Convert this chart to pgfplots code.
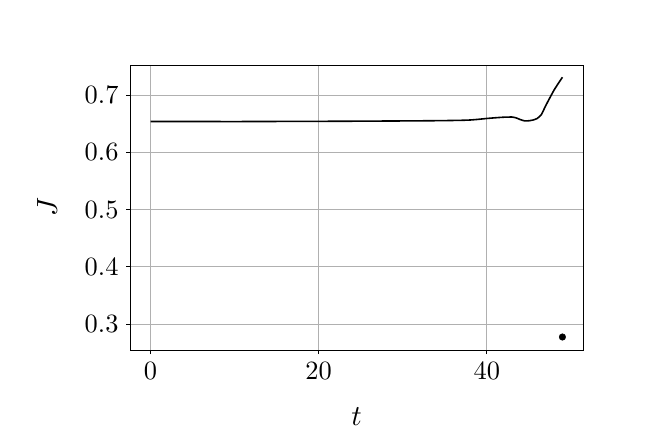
\documentclass[border=0pt]{standalone}
\usepackage{pgfplots}
\usepackage{graphicx}
\pgfplotsset{compat=1.18}
\definecolor{GridGray}{HTML}{B0B0B0}
\begin{document}
\begin{tikzpicture}
\path[use as bounding box] (0,0) rectangle (648bp,432bp);
\begin{axis}[
  at={(130bp,82bp)}, anchor=south west,
  scale only axis, width=453bp, height=285bp,
  xmin=-2.45, xmax=51.45, ymin=0.2546, ymax=0.7524,
  xtick={0,20,40}, ytick={0.3,0.4,0.5,0.6,0.7},
  xticklabel={\scalebox{2.65}{$\pgfmathprintnumber{\tick}$}},
  yticklabel={\scalebox{2.65}{$\pgfmathprintnumber[fixed,fixed zerofill,precision=1]{\tick}$}},
  xlabel={\scalebox{2.9}{$t$}}, ylabel={\scalebox{2.9}{$J$}},
  xlabel style={at={(axis description cs:0.5,-0.235)},anchor=center},
  ylabel style={at={(axis description cs:-0.183,0.5)},anchor=center},
  tick align=outside, major tick length=4bp,
  xtick pos=bottom, ytick pos=left,
  tick style={black,line width=0.8bp},
  axis line style={line width=0.8bp},
  grid=major, grid style={GridGray,line width=0.8bp},
  xticklabel style={yshift=-5bp},
  yticklabel style={xshift=-4bp},
]
\addplot[black,line width=1.6bp,smooth,tension=0.3] coordinates {
(0,0.6537) (5,0.6537) (10,0.6536) (15,0.6538) (20,0.6540) (25,0.6543)
(30,0.6547) (33,0.6550) (35,0.6553) (37,0.6558) (38,0.6563) (39,0.6575)
(40,0.6590) (41,0.6602) (42,0.6612) (43,0.6615) (43.5,0.6600) (44,0.6570)
(44.5,0.6548) (45,0.6550) (45.5,0.6563) (46,0.6590) (46.5,0.6660)
(47,0.6810) (47.5,0.6950) (48,0.7085) (48.5,0.7200) (49,0.7310)
};
\addplot[only marks,mark=*,mark size=3.3bp,black] coordinates {(49,0.2773)};
\end{axis}
\end{tikzpicture}
\end{document}
